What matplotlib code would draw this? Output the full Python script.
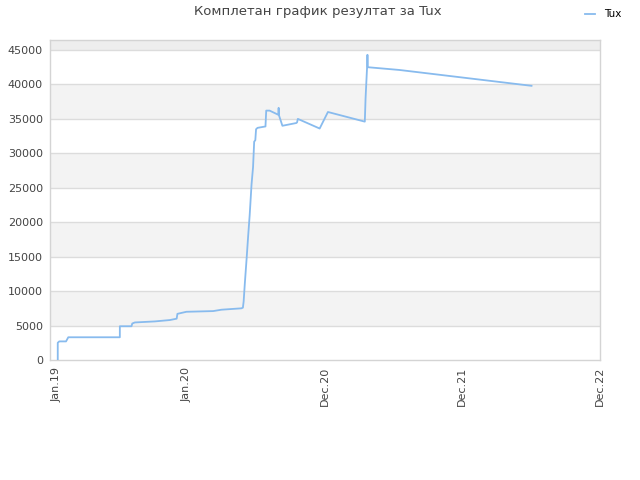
import matplotlib
matplotlib.use("Agg")
import matplotlib.pyplot as plt

# x in days from the first tick (Jan.19)
days = [2, 2, 6, 24, 27, 30, 167, 167, 198, 200, 207, 260, 300, 318, 320, 344,
        415, 437, 490, 494, 496, 499, 504, 508, 512, 517, 521, 524, 527, 529,
        533, 554, 556, 565, 588, 589, 590, 599, 636, 638, 640, 698, 720, 818,
        820, 824, 825, 826, 910, 1261]
values = [0, 2500, 2700, 2700, 3000, 3300, 3300, 4900, 4900, 5300, 5450, 5600,
          5800, 6000, 6700, 7000, 7100, 7300, 7500, 7600, 8500, 11000, 14800,
          18000, 21000, 25500, 28000, 31700, 31900, 33500, 33700, 33900, 36200,
          36200, 35600, 36600, 35500, 34000, 34400, 34500, 35000, 33600, 36000,
          34600, 38000, 42500, 44300, 42500, 42100, 39800]

tick_days = [0, 345, 711, 1075, 1443]
tick_labels = ["Jan.19", "Jan.20", "Dec.20", "Dec.21", "Dec.22"]
y_ticks = [0, 5000, 10000, 15000, 20000, 25000, 30000, 35000, 40000, 45000]

title = "Комплетан график резултат за Tux"
series_name = "Tux"

fig = plt.figure(figsize=(6.4, 4.8), dpi=100)
ax = fig.add_axes([50/640, 1-360/480, 550/640, 320/480])

ymax = 46450
ax.set_xlim(-18.6, 1443)
ax.set_ylim(0, ymax)

# alternating bands
for i, y0 in enumerate(y_ticks):
    y1 = y0 + 5000
    if y0 == 45000:
        ax.axhspan(y0, ymax, color="#eeeeee", zorder=0, lw=0)
    elif i % 2 == 1:
        ax.axhspan(y0, y1, color="#f3f3f3", zorder=0, lw=0)
for y in y_ticks[1:]:
    ax.axhline(y, color="#dcdcdc", lw=1, zorder=1)

ax.plot(days, values, color="#88bbee", lw=1.3, zorder=3, label=series_name)

ax.set_yticks(y_ticks)
ax.set_yticklabels([str(v) for v in y_ticks], fontsize=8, color="#444444")
ax.set_xticks(tick_days)
ax.set_xticklabels(tick_labels, rotation=90, fontsize=8, color="#444444")
ax.tick_params(length=0, pad=5)
for s in ax.spines.values():
    s.set_color("#d4d4d4")
    s.set_linewidth(1)

fig.text(318/640, 1-12/480, title, ha="center", va="center", fontsize=9.5, color="#444444")
leg = fig.legend(loc="upper right", bbox_to_anchor=(0.985, 1.0), frameon=False, fontsize=7.5,
                 handlelength=1.0, handletextpad=0.8)

fig.savefig("out.png", dpi=100, facecolor="white")
